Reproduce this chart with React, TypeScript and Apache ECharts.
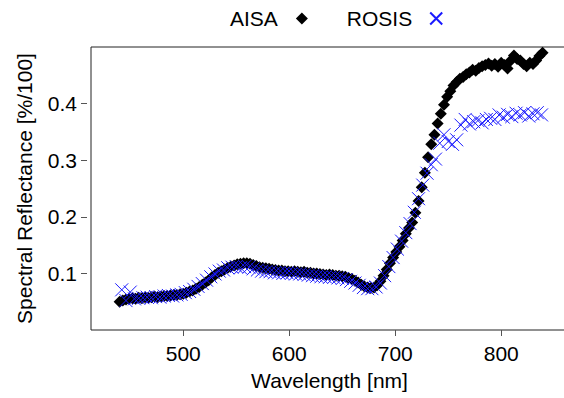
import React, { useEffect, useRef } from "react";
import * as echarts from "echarts";

const aisaWavelength = [
  440, 443, 446, 449, 452, 455, 458, 461, 464, 467, 470, 473, 476, 479, 482, 485, 488, 491, 494, 497,
  500, 503, 506, 509, 512, 515, 518, 521, 524, 527, 530, 533, 536, 539, 542, 545, 548, 551, 554, 557,
  560, 563, 566, 569, 572, 575, 578, 581, 584, 587, 590, 593, 596, 599, 602, 605, 608, 611, 614, 617,
  620, 623, 626, 629, 632, 635, 638, 641, 644, 647, 650, 653, 656, 659, 662, 665, 668, 671, 674, 677,
  680, 683, 686, 689, 692, 695, 698, 701, 704, 707, 710, 713, 716, 719, 722, 725, 728, 731, 734, 737,
  740, 743, 746, 749, 752, 755, 758, 761, 764, 767, 770, 773, 776, 779, 782, 785, 788, 791, 794, 797,
  800, 803, 806, 809, 812, 815, 818, 821, 824, 827, 830, 833, 836, 839,
];
const aisaReflectance = [
  0.050, 0.052, 0.054, 0.055, 0.056, 0.055, 0.057, 0.056, 0.058, 0.057, 0.058, 0.059, 0.058, 0.059, 0.060, 0.060, 0.061, 0.062, 0.062, 0.063,
  0.064, 0.066, 0.068, 0.070, 0.073, 0.076, 0.080, 0.084, 0.088, 0.093, 0.097, 0.101, 0.104, 0.107, 0.110, 0.112, 0.114, 0.116, 0.117, 0.118,
  0.118, 0.117, 0.115, 0.113, 0.111, 0.110, 0.109, 0.108, 0.107, 0.106, 0.105, 0.105, 0.104, 0.104, 0.103, 0.104, 0.103, 0.102, 0.103, 0.101,
  0.101, 0.100, 0.100, 0.099, 0.098, 0.097, 0.098, 0.097, 0.096, 0.096, 0.095, 0.094, 0.092, 0.090, 0.087, 0.084, 0.080, 0.077, 0.075, 0.074,
  0.075, 0.079, 0.086, 0.096, 0.107, 0.118, 0.128, 0.138, 0.147, 0.158, 0.170, 0.180, 0.190, 0.207, 0.228, 0.252, 0.278, 0.305, 0.328, 0.345,
  0.365, 0.382, 0.398, 0.412, 0.422, 0.432, 0.438, 0.444, 0.447, 0.452, 0.455, 0.460, 0.458, 0.463, 0.466, 0.468, 0.471, 0.467, 0.470, 0.465,
  0.472, 0.468, 0.462, 0.476, 0.485, 0.479, 0.476, 0.470, 0.466, 0.472, 0.470, 0.476, 0.484, 0.490,
];

const rosisWavelength = [
  442, 446, 450, 454, 458, 462, 466, 470, 474, 478, 482, 486, 490, 494, 498, 502, 506, 510, 514, 518,
  522, 526, 530, 534, 538, 542, 546, 550, 554, 558, 562, 566, 570, 574, 578, 582, 586, 590, 594, 598,
  602, 606, 610, 614, 618, 622, 626, 630, 634, 638, 642, 646, 650, 654, 658, 662, 666, 670, 674, 678,
  682, 686, 690, 694, 698, 702, 706, 710, 714, 718, 722, 726, 730, 734, 738, 742, 746, 750, 754, 758,
  762, 766, 770, 774, 778, 782, 786, 790, 794, 798, 802, 806, 810, 814, 818, 822, 826, 830, 834, 838,
];
const rosisReflectance = [
  0.071, 0.052, 0.067, 0.055, 0.056, 0.057, 0.058, 0.057, 0.059, 0.058, 0.060, 0.061, 0.060, 0.062, 0.063, 0.066, 0.068, 0.072, 0.077, 0.082,
  0.088, 0.094, 0.099, 0.104, 0.106, 0.110, 0.111, 0.112, 0.110, 0.112, 0.111, 0.108, 0.106, 0.104, 0.103, 0.103, 0.101, 0.101, 0.100, 0.101,
  0.100, 0.099, 0.099, 0.098, 0.097, 0.096, 0.095, 0.094, 0.094, 0.093, 0.093, 0.092, 0.091, 0.089, 0.086, 0.083, 0.079, 0.075, 0.073, 0.073,
  0.076, 0.083, 0.096, 0.112, 0.128, 0.143, 0.157, 0.172, 0.188, 0.208, 0.232, 0.256, 0.277, 0.292, 0.302, 0.330, 0.345, 0.333, 0.328, 0.336,
  0.362, 0.372, 0.364, 0.368, 0.370, 0.366, 0.372, 0.374, 0.372, 0.380, 0.376, 0.381, 0.377, 0.383, 0.380, 0.384, 0.378, 0.382, 0.384, 0.380,
];

const xTicks = [500, 600, 700, 800];
const yTicks = [0.1, 0.2, 0.3, 0.4];
const seriesNames = ["AISA", "ROSIS"];

const FONT = '"Liberation Sans", Arial, Helvetica, sans-serif';
const CROSS = "path://M0,0L10,10M0,10L10,0";

export default function App() {
  const ref = useRef<HTMLDivElement>(null);
  useEffect(() => {
    document.body.style.margin = "0";
    if (!ref.current) return;
    const chart = echarts.init(ref.current, null, { renderer: "svg" });
    const aisa = aisaWavelength.map((w, i) => [w, aisaReflectance[i]]);
    const rosis = rosisWavelength.map((w, i) => [w, rosisReflectance[i]]);
    chart.setOption({
      animation: false,
      textStyle: { fontFamily: FONT },
      legend: {
        left: 225,
        top: 3,
        align: "right",
        itemWidth: 12,
        itemHeight: 12,
        itemGap: 39,
        textStyle: { fontSize: 21, color: "#000", fontFamily: FONT, padding: [0, 13, 0, 0] },
        data: [
          { name: seriesNames[0], icon: "diamond" },
          { name: seriesNames[1], icon: CROSS },
        ],
      },
      grid: {
        left: 91,
        top: 47,
        right: -4,
        bottom: 68,
        show: true,
        borderColor: "#222",
        borderWidth: 1,
        backgroundColor: "transparent",
        outerBoundsMode: "none",
        containLabel: false,
      },
      xAxis: {
        type: "value",
        min: 413,
        max: 863,
        offset: 2,
        name: "Wavelength [nm]",
        nameLocation: "middle",
        nameGap: 38,
        nameTextStyle: { fontSize: 21, color: "#000", fontFamily: FONT },
        axisLine: { show: false },
        splitLine: { show: false },
        axisTick: { show: true, length: 6, customValues: xTicks, lineStyle: { color: "#555" } },
        axisLabel: { customValues: xTicks, fontSize: 21, color: "#000", margin: 11, fontFamily: FONT },
      },
      yAxis: {
        type: "value",
        min: 0,
        max: 0.5,
        offset: 4,
        name: "Spectral Reflectance [%/100]",
        nameLocation: "middle",
        nameGap: 52,
        nameTextStyle: { fontSize: 21, color: "#000", fontFamily: FONT },
        axisLine: { show: false },
        splitLine: { show: false },
        axisTick: { show: true, length: 6, customValues: yTicks, lineStyle: { color: "#555" } },
        axisLabel: { customValues: yTicks, fontSize: 21, color: "#000", margin: 10, fontFamily: FONT },
      },
      series: [
        {
          name: seriesNames[0],
          type: "scatter",
          symbol: "diamond",
          symbolSize: 12,
          itemStyle: { color: "#000", opacity: 1 },
          data: aisa,
        },
        {
          name: seriesNames[1],
          type: "scatter",
          symbol: CROSS,
          symbolSize: 13,
          itemStyle: { color: "none", borderColor: "#1a1aff", borderWidth: 1, opacity: 1 },
          data: rosis,
        },
      ],
    });
    return () => chart.dispose();
  }, []);
  return <div ref={ref} style={{ width: 564, height: 398 }} />;
}
